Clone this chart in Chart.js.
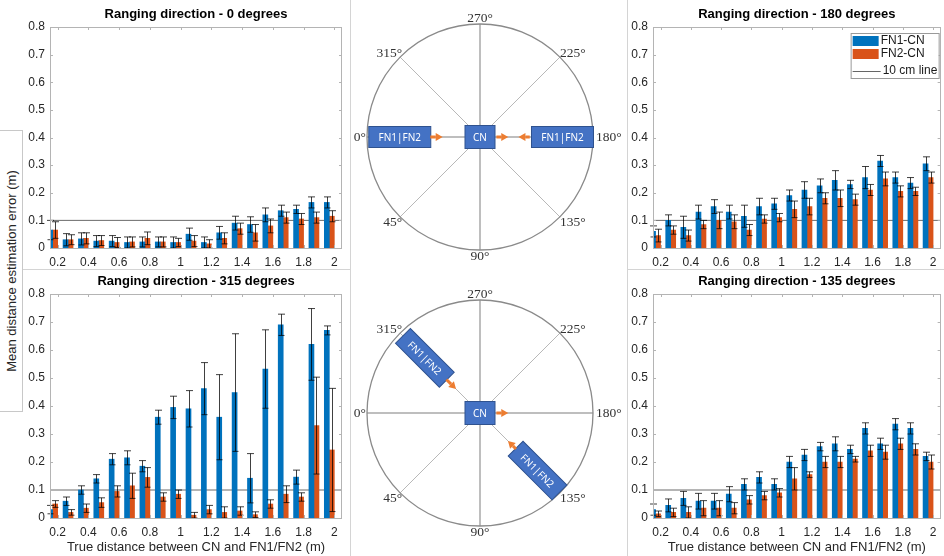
<!DOCTYPE html>
<html>
<head>
<meta charset="utf-8">
<script src="https://cdn.jsdelivr.net/npm/chart.js@4.4.0/dist/chart.umd.min.js"></script>
<style>
  html, body { margin: 0; padding: 0; background: #fff; }
  body { width: 944px; height: 556px; position: relative; overflow: hidden; font-family: 'Liberation Sans', Arial, sans-serif; }
  .box { position: absolute; }
  .box canvas { display: block; }
  .frame { position: absolute; background: #d4d4d4; }
  #ytitle { position: absolute; left: 0; top: 130px; width: 22px; height: 280px; background: #fff;
            border: 1px solid #c8c8c8; border-left: none; z-index: 5; }
  #ytitle span { position: absolute; left: 50%; top: 50%; transform: translate(-50%, -50%) rotate(-90deg);
                 white-space: nowrap; font-size: 13px; color: #262626; }
</style>
</head>
<body>
<div class="frame" style="left:350px;top:0;width:1px;height:556px"></div>
<div class="frame" style="left:627px;top:0;width:1px;height:556px"></div>
<div class="frame" style="left:0;top:269px;width:350px;height:1px"></div>
<div class="frame" style="left:627px;top:269px;width:317px;height:1px"></div>

<div class="box" style="left:0;top:0;width:352px;height:270px"><canvas id="c0"></canvas></div>
<div class="box" style="left:0;top:270px;width:352px;height:286px"><canvas id="c315"></canvas></div>
<div class="box" style="left:603px;top:0;width:341px;height:270px"><canvas id="c180"></canvas></div>
<div class="box" style="left:603px;top:270px;width:341px;height:286px"><canvas id="c135"></canvas></div>
<div class="box" style="left:352px;top:0;width:274px;height:270px"><canvas id="dTop"></canvas></div>
<div class="box" style="left:352px;top:270px;width:274px;height:286px"><canvas id="dBottom"></canvas></div>
<div id="ytitle"><span>Mean distance estimation error (m)</span></div>

<script>
// ---------- data ----------
const distances = ['0.2', '0.3', '0.4', '0.5', '0.6', '0.7', '0.8', '0.9', '1', '1.1',
                   '1.2', '1.3', '1.4', '1.5', '1.6', '1.7', '1.8', '1.9', '2'];
const yTickLabels = ['0', '0.1', '0.2', '0.3', '0.4', '0.5', '0.6', '0.7', '0.8'];
const tenCm = 0.1;

// 0 degrees
const fn1_0 = [0.065, 0.03, 0.033, 0.025, 0.025, 0.02, 0.022, 0.022, 0.02, 0.05, 0.02, 0.055, 0.09, 0.085, 0.12, 0.135, 0.14, 0.165, 0.165];
const fn1Err_0 = [0.035, 0.022, 0.022, 0.02, 0.02, 0.02, 0.018, 0.018, 0.02, 0.022, 0.02, 0.023, 0.025, 0.028, 0.025, 0.02, 0.015, 0.02, 0.02];
const fn2_0 = [0.065, 0.03, 0.035, 0.027, 0.02, 0.022, 0.035, 0.022, 0.02, 0.025, 0.015, 0.035, 0.07, 0.055, 0.08, 0.11, 0.105, 0.11, 0.115];
const fn2Err_0 = [0.03, 0.018, 0.02, 0.018, 0.018, 0.018, 0.023, 0.018, 0.015, 0.02, 0.015, 0.02, 0.02, 0.03, 0.025, 0.02, 0.02, 0.02, 0.02];

// 315 degrees
const fn1_315 = [0.03, 0.06, 0.1, 0.14, 0.21, 0.215, 0.185, 0.36, 0.395, 0.39, 0.462, 0.36, 0.448, 0.142, 0.532, 0.69, 0.146, 0.62, 0.67];
const fn1Err_315 = [0.015, 0.015, 0.015, 0.015, 0.02, 0.025, 0.02, 0.025, 0.04, 0.065, 0.093, 0.152, 0.21, 0.088, 0.14, 0.038, 0.025, 0.128, 0.016];
const fn2_315 = [0.05, 0.02, 0.035, 0.055, 0.095, 0.115, 0.145, 0.075, 0.085, 0.01, 0.03, 0.02, 0.025, 0.012, 0.05, 0.085, 0.075, 0.33, 0.243];
const fn2Err_315 = [0.012, 0.01, 0.015, 0.017, 0.02, 0.045, 0.035, 0.015, 0.015, 0.01, 0.015, 0.02, 0.015, 0.01, 0.015, 0.03, 0.015, 0.173, 0.22];

// 180 degrees
const fn1_180 = [0.06, 0.1, 0.075, 0.13, 0.15, 0.13, 0.115, 0.15, 0.16, 0.19, 0.21, 0.225, 0.245, 0.23, 0.255, 0.315, 0.255, 0.235, 0.305];
const fn1Err_180 = [0.02, 0.02, 0.04, 0.025, 0.025, 0.025, 0.04, 0.03, 0.02, 0.02, 0.03, 0.025, 0.035, 0.015, 0.04, 0.02, 0.02, 0.02, 0.025];
const fn2_180 = [0.045, 0.065, 0.045, 0.085, 0.1, 0.095, 0.065, 0.105, 0.11, 0.14, 0.15, 0.18, 0.18, 0.175, 0.21, 0.25, 0.205, 0.205, 0.255];
const fn2Err_180 = [0.023, 0.015, 0.02, 0.015, 0.03, 0.025, 0.02, 0.015, 0.015, 0.03, 0.03, 0.02, 0.03, 0.02, 0.02, 0.025, 0.02, 0.015, 0.02];

// 135 degrees
const fn1_135 = [0.03, 0.045, 0.07, 0.06, 0.06, 0.085, 0.12, 0.145, 0.12, 0.2, 0.225, 0.255, 0.265, 0.245, 0.32, 0.265, 0.335, 0.32, 0.22];
const fn1Err_135 = [0.02, 0.023, 0.025, 0.028, 0.028, 0.027, 0.02, 0.02, 0.02, 0.02, 0.02, 0.015, 0.025, 0.015, 0.02, 0.02, 0.02, 0.02, 0.015];
const fn2_135 = [0.015, 0.02, 0.02, 0.035, 0.035, 0.035, 0.065, 0.08, 0.09, 0.14, 0.155, 0.2, 0.2, 0.21, 0.24, 0.235, 0.265, 0.245, 0.2];
const fn2Err_135 = [0.01, 0.015, 0.02, 0.027, 0.027, 0.02, 0.015, 0.015, 0.015, 0.04, 0.01, 0.02, 0.02, 0.01, 0.02, 0.025, 0.02, 0.02, 0.025];

// diagrams
const spokeAngles = [0, 45, 90, 135, 180, 225, 270, 315];
const angleLabels = ['0°', '45°', '90°', '135°', '180°', '225°', '270°', '315°'];
const topNodes = [{ angle: 0, dist: 0.71 }, { angle: 180, dist: 0.73 }];
const topArrows = [{ angle: 0, from: 0.44, to: 0.33 }, { angle: 180, from: 0.145, to: 0.25 }, { angle: 180, from: 0.44, to: 0.34 }];
const bottomNodes = [{ angle: 315, dist: 0.69 }, { angle: 135, dist: 0.72 }];
const bottomArrows = [{ angle: 315, from: 0.42, to: 0.30 }, { angle: 180, from: 0.145, to: 0.25 }, { angle: 135, from: 0.45, to: 0.35 }];

const BLUE = '#0072BD';
const ORANGE = '#D95319';
const AXIS_GRAY = '#b4b4b4';
const TICK_FONT = { family: "'Liberation Sans', Arial, sans-serif", size: 12 };

// ---------- plugins ----------
const errorBarPlugin = {
    id: 'errorBars',
    afterDatasetsDraw(chart) {
        const ctx = chart.ctx;
        const yScale = chart.scales.y;
        chart.data.datasets.forEach((ds, i) => {
            if (!ds.errors) return;
            const meta = chart.getDatasetMeta(i);
            ctx.save();
            ctx.strokeStyle = 'rgba(0,0,0,0.75)';
            ctx.lineWidth = 1;
            meta.data.forEach((bar, j) => {
                const m = ds.data[j], e = ds.errors[j];
                const x = Math.round(bar.x) + 0.5;
                const yTop = yScale.getPixelForValue(m + e);
                const yBot = yScale.getPixelForValue(Math.max(m - e, 0));
                ctx.beginPath();
                ctx.moveTo(x, yTop); ctx.lineTo(x, yBot);
                ctx.moveTo(x - 3.5, yTop); ctx.lineTo(x + 3.5, yTop);
                ctx.moveTo(x - 3, yBot); ctx.lineTo(x + 3, yBot);
                ctx.stroke();
            });
            ctx.restore();
        });
    }
};

const axesBoxPlugin = {
    id: 'axesBox',
    afterDraw(chart) {
        const { ctx, chartArea: a } = chart;
        const xs = chart.scales.x, ys = chart.scales.y;
        ctx.save();
        ctx.strokeStyle = AXIS_GRAY;
        ctx.lineWidth = 1;
        ctx.strokeRect(Math.round(a.left) + 0.5, Math.round(a.top) + 0.5,
                       Math.round(a.right - a.left) - 1, Math.round(a.bottom - a.top));
        ctx.beginPath();
        ys.ticks.forEach(t => {
            const y = Math.round(ys.getPixelForValue(t.value)) + 0.5;
            ctx.moveTo(a.left, y); ctx.lineTo(a.left + 3, y);
            ctx.moveTo(a.right, y); ctx.lineTo(a.right - 3, y);
        });
        distances.forEach((d, i) => {
            if (i % 2) return;
            const x = Math.round(xs.getPixelForValue(i)) + 0.5;
            ctx.moveTo(x, a.bottom); ctx.lineTo(x, a.bottom - 3);
            ctx.moveTo(x, a.top); ctx.lineTo(x, a.top + 3);
        });
        ctx.stroke();
        ctx.restore();
    }
};

const insideLegendPlugin = {
    id: 'insideLegend',
    afterDraw(chart, args, opts) {
        if (!opts.display) return;
        const { ctx, chartArea: a } = chart;
        const ds = chart.data.datasets;
        const bx = a.right - 90, by = a.top + 6, bw = 88, bh = 45;
        ctx.save();
        ctx.fillStyle = '#fff';
        ctx.fillRect(bx, by, bw, bh);
        ctx.strokeStyle = '#9a9a9a';
        ctx.lineWidth = 1;
        ctx.strokeRect(bx + 0.5, by + 0.5, bw, bh);
        ctx.font = "12px 'Liberation Sans', Arial, sans-serif";
        ctx.textBaseline = 'middle';
        ctx.fillStyle = BLUE;
        ctx.fillRect(bx + 2, by + 3, 26, 10);
        ctx.fillStyle = ORANGE;
        ctx.fillRect(bx + 2, by + 16, 26, 10);
        ctx.strokeStyle = '#666';
        ctx.beginPath();
        ctx.moveTo(bx + 2, by + 38.5); ctx.lineTo(bx + 30, by + 38.5);
        ctx.stroke();
        ctx.fillStyle = '#1a1a1a';
        ctx.fillText(ds[0].label, bx + 30, by + 8);
        ctx.fillText(ds[1].label, bx + 30, by + 21);
        ctx.fillText(ds[2].label, bx + 32, by + 38);
        ctx.restore();
    }
};

function makePanel(id, title, fn1, fn1Err, fn2, fn2Err, isBottom, withLegend, rightPad) {
    const canvas = document.getElementById(id);
    return new Chart(canvas.getContext('2d'), {
        type: 'bar',
        data: {
            labels: distances,
            datasets: [
                { label: 'FN1-CN', data: fn1, errors: fn1Err, backgroundColor: BLUE, xAxisID: 'x', yAxisID: 'y',
                  barThickness: 5, order: 1 },
                { label: 'FN2-CN', data: fn2, errors: fn2Err, backgroundColor: ORANGE, xAxisID: 'x', yAxisID: 'y',
                  barThickness: 5, order: 1 },
                { type: 'line', label: '10 cm line', data: [{ x: 0, y: tenCm }, { x: 1, y: tenCm }],
                  xAxisID: 'xl', yAxisID: 'y', borderColor: '#6a6a6a', borderWidth: 1, pointRadius: 0, order: 2 }
            ]
        },
        options: {
            responsive: true,
            maintainAspectRatio: false,
            animation: false,
            devicePixelRatio: 1,
            layout: { padding: { left: 0, right: rightPad, top: 0, bottom: 0 } },
            plugins: {
                legend: { display: false },
                tooltip: { enabled: false },
                title: {
                    display: true,
                    text: title,
                    fullSize: false,
                    color: '#000',
                    font: { family: "'Liberation Sans', Arial, sans-serif", size: 13, weight: 'bold' },
                    padding: isBottom ? { top: 4, bottom: 4.4 } : { top: 7, bottom: 4.4 }
                },
                insideLegend: { display: !!withLegend }
            },
            scales: {
                x: {
                    type: 'category',
                    grid: { display: false, drawTicks: false },
                    border: { display: false },
                    ticks: {
                        autoSkip: false, maxRotation: 0, padding: 7.5, color: '#262626', font: TICK_FONT,
                        callback: (v, i) => (i % 2 === 0 ? distances[i] : '')
                    },
                    title: {
                        display: isBottom,
                        text: 'True distance between CN and FN1/FN2 (m)',
                        color: '#262626',
                        font: { family: "'Liberation Sans', Arial, sans-serif", size: 13 },
                        padding: { top: 0, bottom: 0.5 }
                    },
                    afterFit: s => { s.height = isBottom ? 38 : 22; }
                },
                xl: { type: 'linear', min: 0, max: 1, offset: false, display: false },
                y: {
                    min: 0, max: 0.8,
                    grid: { display: false, drawTicks: false },
                    border: { display: false },
                    ticks: {
                        stepSize: 0.1, padding: 5, color: '#262626', font: TICK_FONT,
                        callback: v => yTickLabels[Math.round(v * 10)]
                    },
                    afterFit: s => { s.width = 50; }
                }
            }
        },
        plugins: [errorBarPlugin, axesBoxPlugin, insideLegendPlugin]
    });
}

makePanel('c0', 'Ranging direction - 0 degrees', fn1_0, fn1Err_0, fn2_0, fn2Err_0, false, false, 10);
makePanel('c315', 'Ranging direction - 315 degrees', fn1_315, fn1Err_315, fn2_315, fn2Err_315, true, false, 10);
makePanel('c180', 'Ranging direction - 180 degrees', fn1_180, fn1Err_180, fn2_180, fn2Err_180, false, true, 0);
makePanel('c135', 'Ranging direction - 135 degrees', fn1_135, fn1Err_135, fn2_135, fn2Err_135, true, false, 0);

// ---------- direction diagrams ----------
const diagramPlugin = {
    id: 'diagram',
    afterDraw(chart, args, opts) {
        const { ctx } = chart;
        const xs = chart.scales.x, ys = chart.scales.y;
        // direction of an angle: 0 left, 90 down, 180 right, 270 up
        const pt = (angle, r) => {
            const t = angle * Math.PI / 180;
            return { x: xs.getPixelForValue(-Math.cos(t) * r), y: ys.getPixelForValue(-Math.sin(t) * r) };
        };
        const c = pt(0, 0);
        const R = xs.getPixelForValue(1) - c.x;

        ctx.save();
        // spokes
        spokeAngles.forEach(a => {
            const p = pt(a, 1);
            ctx.beginPath();
            ctx.strokeStyle = a % 90 === 0 ? '#a8a8a8' : '#b8b8b8';
            ctx.lineWidth = a % 90 === 0 ? 1.5 : 1;
            ctx.moveTo(c.x, c.y); ctx.lineTo(p.x, p.y);
            ctx.stroke();
        });
        // circle
        ctx.beginPath();
        ctx.strokeStyle = '#8a8a8a';
        ctx.lineWidth = 1.3;
        ctx.arc(c.x, c.y, R, 0, Math.PI * 2);
        ctx.stroke();

        // angle labels
        ctx.fillStyle = '#333';
        ctx.font = "13.5px 'Liberation Serif', 'DejaVu Serif', serif";
        spokeAngles.forEach((a, i) => {
            const p = pt(a, 1);
            const dx = p.x - c.x, dy = p.y - c.y;
            let x = p.x, y = p.y;
            if (Math.abs(dx) < 1) {
                ctx.textAlign = 'center';
                ctx.textBaseline = dy < 0 ? 'bottom' : 'top';
                y += dy < 0 ? 1 : 0;
            } else if (Math.abs(dy) < 1) {
                ctx.textAlign = dx < 0 ? 'right' : 'left';
                ctx.textBaseline = 'middle';
                x += dx < 0 ? -1 : 3;
            } else {
                ctx.textAlign = dx < 0 ? 'right' : 'left';
                ctx.textBaseline = 'middle';
                x += dx < 0 ? 2 : 0;
                y += dy < 0 ? -4 : 6;
            }
            ctx.fillText(angleLabels[i], x, y);
        });

        const drawBox = (cx, cy, w, h, rot, text) => {
            ctx.save();
            ctx.translate(cx, cy);
            ctx.rotate(rot);
            ctx.fillStyle = '#4472C4';
            ctx.fillRect(-w / 2, -h / 2, w, h);
            ctx.strokeStyle = '#2F528F';
            ctx.lineWidth = 1;
            ctx.strokeRect(-w / 2, -h / 2, w, h);
            ctx.fillStyle = '#fff';
            ctx.font = "10px 'Noto Sans', 'Open Sans', sans-serif";
            ctx.textAlign = 'center';
            ctx.textBaseline = 'middle';
            ctx.fillText(text, 0, 1);
            ctx.restore();
        };

        // CN and FN boxes
        drawBox(c.x, c.y, 30, 23, 0, 'CN');
        opts.nodes.forEach(n => {
            const p = pt(n.angle, n.dist);
            drawBox(p.x, p.y, 62, 21, opts.rotation * Math.PI / 180, 'FN1|FN2');
        });

        // arrows
        ctx.fillStyle = '#ED7D31';
        ctx.strokeStyle = '#ED7D31';
        opts.arrows.forEach(ar => {
            const p0 = pt(ar.angle, ar.from), p1 = pt(ar.angle, ar.to);
            const ang = Math.atan2(p1.y - p0.y, p1.x - p0.x);
            const head = 7;
            const bx = p1.x - Math.cos(ang) * head, by = p1.y - Math.sin(ang) * head;
            ctx.lineWidth = 3;
            ctx.beginPath();
            ctx.moveTo(p0.x, p0.y); ctx.lineTo(bx, by);
            ctx.stroke();
            ctx.beginPath();
            ctx.moveTo(p1.x, p1.y);
            ctx.lineTo(bx + Math.sin(ang) * 4, by - Math.cos(ang) * 4);
            ctx.lineTo(bx - Math.sin(ang) * 4, by + Math.cos(ang) * 4);
            ctx.closePath();
            ctx.fill();
        });
        ctx.restore();
    }
};

function makeDiagram(id, nodes, arrows, rotation, yMin, yMax) {
    const canvas = document.getElementById(id);
    return new Chart(canvas.getContext('2d'), {
        type: 'scatter',
        data: { datasets: [] },
        options: {
            responsive: true,
            maintainAspectRatio: false,
            animation: false,
            devicePixelRatio: 1,
            layout: { padding: 0 },
            plugins: {
                legend: { display: false },
                tooltip: { enabled: false },
                diagram: { nodes: nodes, arrows: arrows, rotation: rotation }
            },
            scales: {
                x: { type: 'linear', min: -128 / 113, max: 146 / 113, display: false },
                y: { type: 'linear', min: yMin, max: yMax, display: false }
            }
        },
        plugins: [diagramPlugin]
    });
}

makeDiagram('dTop', topNodes, topArrows, 0, -133 / 113, 137 / 113);
makeDiagram('dBottom', bottomNodes, bottomArrows, 45, -143 / 113, 143 / 113);
</script>
</body>
</html>
